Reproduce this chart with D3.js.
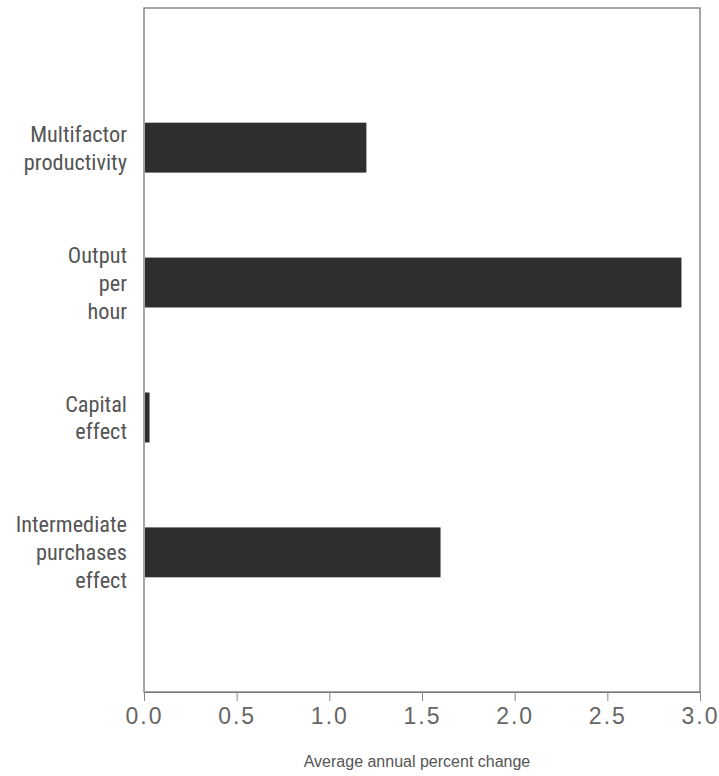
<!DOCTYPE html>
<html><head><meta charset="utf-8">
<script src="https://cdn.jsdelivr.net/npm/d3@7"></script>
<style>body{margin:0;background:#fff}</style>
</head><body>
<svg id="c" width="719" height="776"></svg>
<script>
const categories = [["Multifactor","productivity"],["Output","per","hour"],["Capital","effect"],["Intermediate","purchases","effect"]];
const values = [1.2, 2.9, 0.03, 1.6];
const tickValues = [0,0.5,1.0,1.5,2.0,2.5,3.0];
const xTitle = "Average annual percent change";

const svg = d3.select("#c");
const L=144, R=700, T=8, B=692;
const keys = categories.map(d=>d.join(" "));
const x = d3.scaleLinear().domain([0,3]).range([L,R]);
const y = d3.scaleBand().domain(keys).range([T,B]).paddingInner(0.63).paddingOuter(0.85);

// frame
svg.append("rect").attr("x",L).attr("y",T).attr("width",R-L).attr("height",B-T)
  .attr("fill","none").attr("stroke","#777").attr("stroke-width",1.3);

// bars
svg.selectAll(".bar").data(values).join("rect")
  .attr("x",x(0)+1).attr("y",(d,i)=>y(keys[i]))
  .attr("width",d=>Math.max(0,x(d)-x(0)-1)).attr("height",y.bandwidth())
  .attr("fill","#2e2e2e");

// x axis
const ax = svg.append("g").attr("transform",`translate(0,${B})`)
  .call(d3.axisBottom(x).tickValues(tickValues).tickFormat(d3.format(".1f")).tickSize(9).tickPadding(7));
ax.select(".domain").attr("stroke","#777");
ax.selectAll(".tick line").attr("stroke","#888");
ax.selectAll(".tick text").attr("fill","#666").attr("font-size",23)
  .attr("font-family","'Liberation Sans', Arial, sans-serif").attr("letter-spacing","2px");

svg.append("text").attr("x",(L+R)/2 - 5).attr("y",767).attr("text-anchor","middle")
  .attr("font-family","'Liberation Sans', Arial, sans-serif").attr("font-size",16).attr("fill","#555")
  .text(xTitle);

// category labels
const lh = 28;
categories.forEach((lines,i)=>{
  const cy = y(keys[i]) + y.bandwidth()/2;
  const t = svg.append("text").attr("text-anchor","end")
    .attr("transform",`translate(127,0) scale(0.97,1)`)
    .attr("font-family","'Liberation Sans Narrow','Arial Narrow','Roboto Condensed',sans-serif")
    .attr("font-size",23).attr("fill","#555");
  lines.forEach((s,j)=>{
    t.append("tspan").attr("x",0).attr("y",cy + (j-(lines.length-1)/2)*lh).attr("dy","0.35em").text(s);
  });
});
</script>
</body></html>
